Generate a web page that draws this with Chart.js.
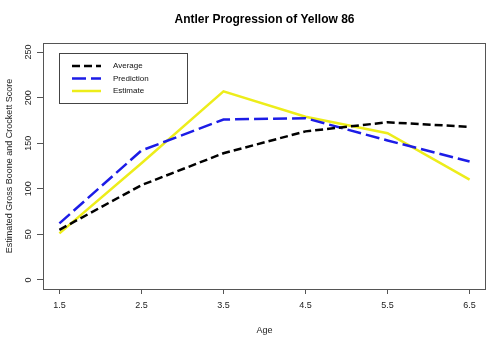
<!DOCTYPE html>
<html><head><meta charset="utf-8">
<script src="https://cdn.jsdelivr.net/npm/chart.js@4"></script>
<style>html,body{margin:0;padding:0;background:#fff}#w{width:492px;height:340px}</style>
</head><body><div id="w"><canvas id="c" width="492" height="340"></canvas></div>
<script>
const ages = [1.5, 2.5, 3.5, 4.5, 5.5, 6.5];
const average = [55, 104, 139, 163, 173, 168];
const prediction = [62, 142, 176, 177.5, 153, 130];
const estimate = [51, 128, 207, 179, 161, 110];
const xTicks = [1.5, 2.5, 3.5, 4.5, 5.5, 6.5];
const yTicks = [0, 50, 100, 150, 200, 250];
const seriesNames = ['Average', 'Prediction', 'Estimate'];

const FONT = 'Liberation Sans, Arial, sans-serif';
const pts = v => ages.map((a, i) => ({x: a, y: v[i]}));

const framePlugin = {
  id: 'frame',
  afterDraw(chart) {
    const {ctx, chartArea: a} = chart;
    ctx.save();
    ctx.strokeStyle = '#555';
    ctx.lineWidth = 1;
    ctx.strokeRect(a.left + 0.5, a.top + 0.5, a.right - a.left - 1, a.bottom - a.top);
    // y tick labels (rotated, centred on ticks)
    const ys = chart.scales.y;
    ctx.fillStyle = '#222';
    ctx.font = '9px ' + FONT;
    ctx.textAlign = 'center';
    ctx.textBaseline = 'middle';
    yTicks.forEach(v => {
      const py = ys.getPixelForValue(v);
      ctx.save();
      ctx.translate(29, py);
      ctx.rotate(-Math.PI / 2);
      ctx.fillText(String(v), 0, 0);
      ctx.restore();
    });
    // title
    ctx.fillStyle = '#000';
    ctx.font = 'bold 12px ' + FONT;
    ctx.fillText('Antler Progression of Yellow 86', (a.left + a.right) / 2, 20);
    // legend
    const lx = 59, ly = 53, lw = 128, lh = 50;
    ctx.strokeStyle = '#444';
    ctx.lineWidth = 1;
    ctx.strokeRect(lx + 0.5, ly + 0.5, lw, lh);
    const ds = chart.data.datasets;
    ctx.font = '8px ' + FONT;
    ctx.textAlign = 'left';
    ds.forEach((d, i) => {
      const y = ly + 13 + i * 12.5;
      ctx.beginPath();
      ctx.setLineDash(d.borderDash || []);
      ctx.strokeStyle = d.borderColor;
      ctx.lineWidth = d.borderWidth;
      ctx.moveTo(72, y); ctx.lineTo(101, y);
      ctx.stroke();
      ctx.setLineDash([]);
      ctx.fillStyle = '#111';
      ctx.fillText(d.label, 113, y);
    });
    ctx.restore();
  }
};

new Chart(document.getElementById('c'), {
  type: 'line',
  data: {
    datasets: [
      {label: seriesNames[0], data: pts(average), borderColor: '#000', borderWidth: 2.5, borderDash: [8, 4], pointRadius: 0, tension: 0, fill: false},
      {label: seriesNames[1], data: pts(prediction), borderColor: '#1c1ce6', borderWidth: 2.5, borderDash: [14, 5], pointRadius: 0, tension: 0, fill: false},
      {label: seriesNames[2], data: pts(estimate), borderColor: '#eded1a', borderWidth: 2.5, pointRadius: 0, tension: 0, fill: false}
    ]
  },
  options: {
    responsive: false,
    animation: false,
    events: [],
    layout: {padding: {top: 43, right: 6, left: 0, bottom: 0}},
    plugins: {legend: {display: false}, title: {display: false}, tooltip: {enabled: false}},
    scales: {
      x: {
        type: 'linear', min: 1.3, max: 6.7,
        afterBuildTicks: s => { s.ticks = xTicks.map(v => ({value: v})); },
        afterFit: s => { s.height = 51; },
        border: {display: false},
        grid: {drawOnChartArea: false, drawTicks: true, tickLength: 5, color: '#555'},
        ticks: {color: '#222', font: {family: FONT, size: 9}, padding: 6, maxRotation: 0, callback: v => v.toFixed(1)},
        title: {display: true, text: 'Age', color: '#222', font: {family: FONT, size: 9}, padding: {top: 8}}
      },
      y: {
        min: -10, max: 260,
        afterBuildTicks: s => { s.ticks = yTicks.map(v => ({value: v})); },
        afterFit: s => { s.width = 43; },
        border: {display: false},
        grid: {drawOnChartArea: false, drawTicks: true, tickLength: 6, color: '#555'},
        ticks: {color: 'rgba(0,0,0,0)', font: {family: FONT, size: 9}, padding: 4, minRotation: 90, maxRotation: 90},
        title: {display: true, text: 'Estimated Gross Boone and Crockett Score', color: '#222', font: {family: FONT, size: 9}, padding: {bottom: 6}}
      }
    }
  },
  plugins: [framePlugin]
});
</script></body></html>
